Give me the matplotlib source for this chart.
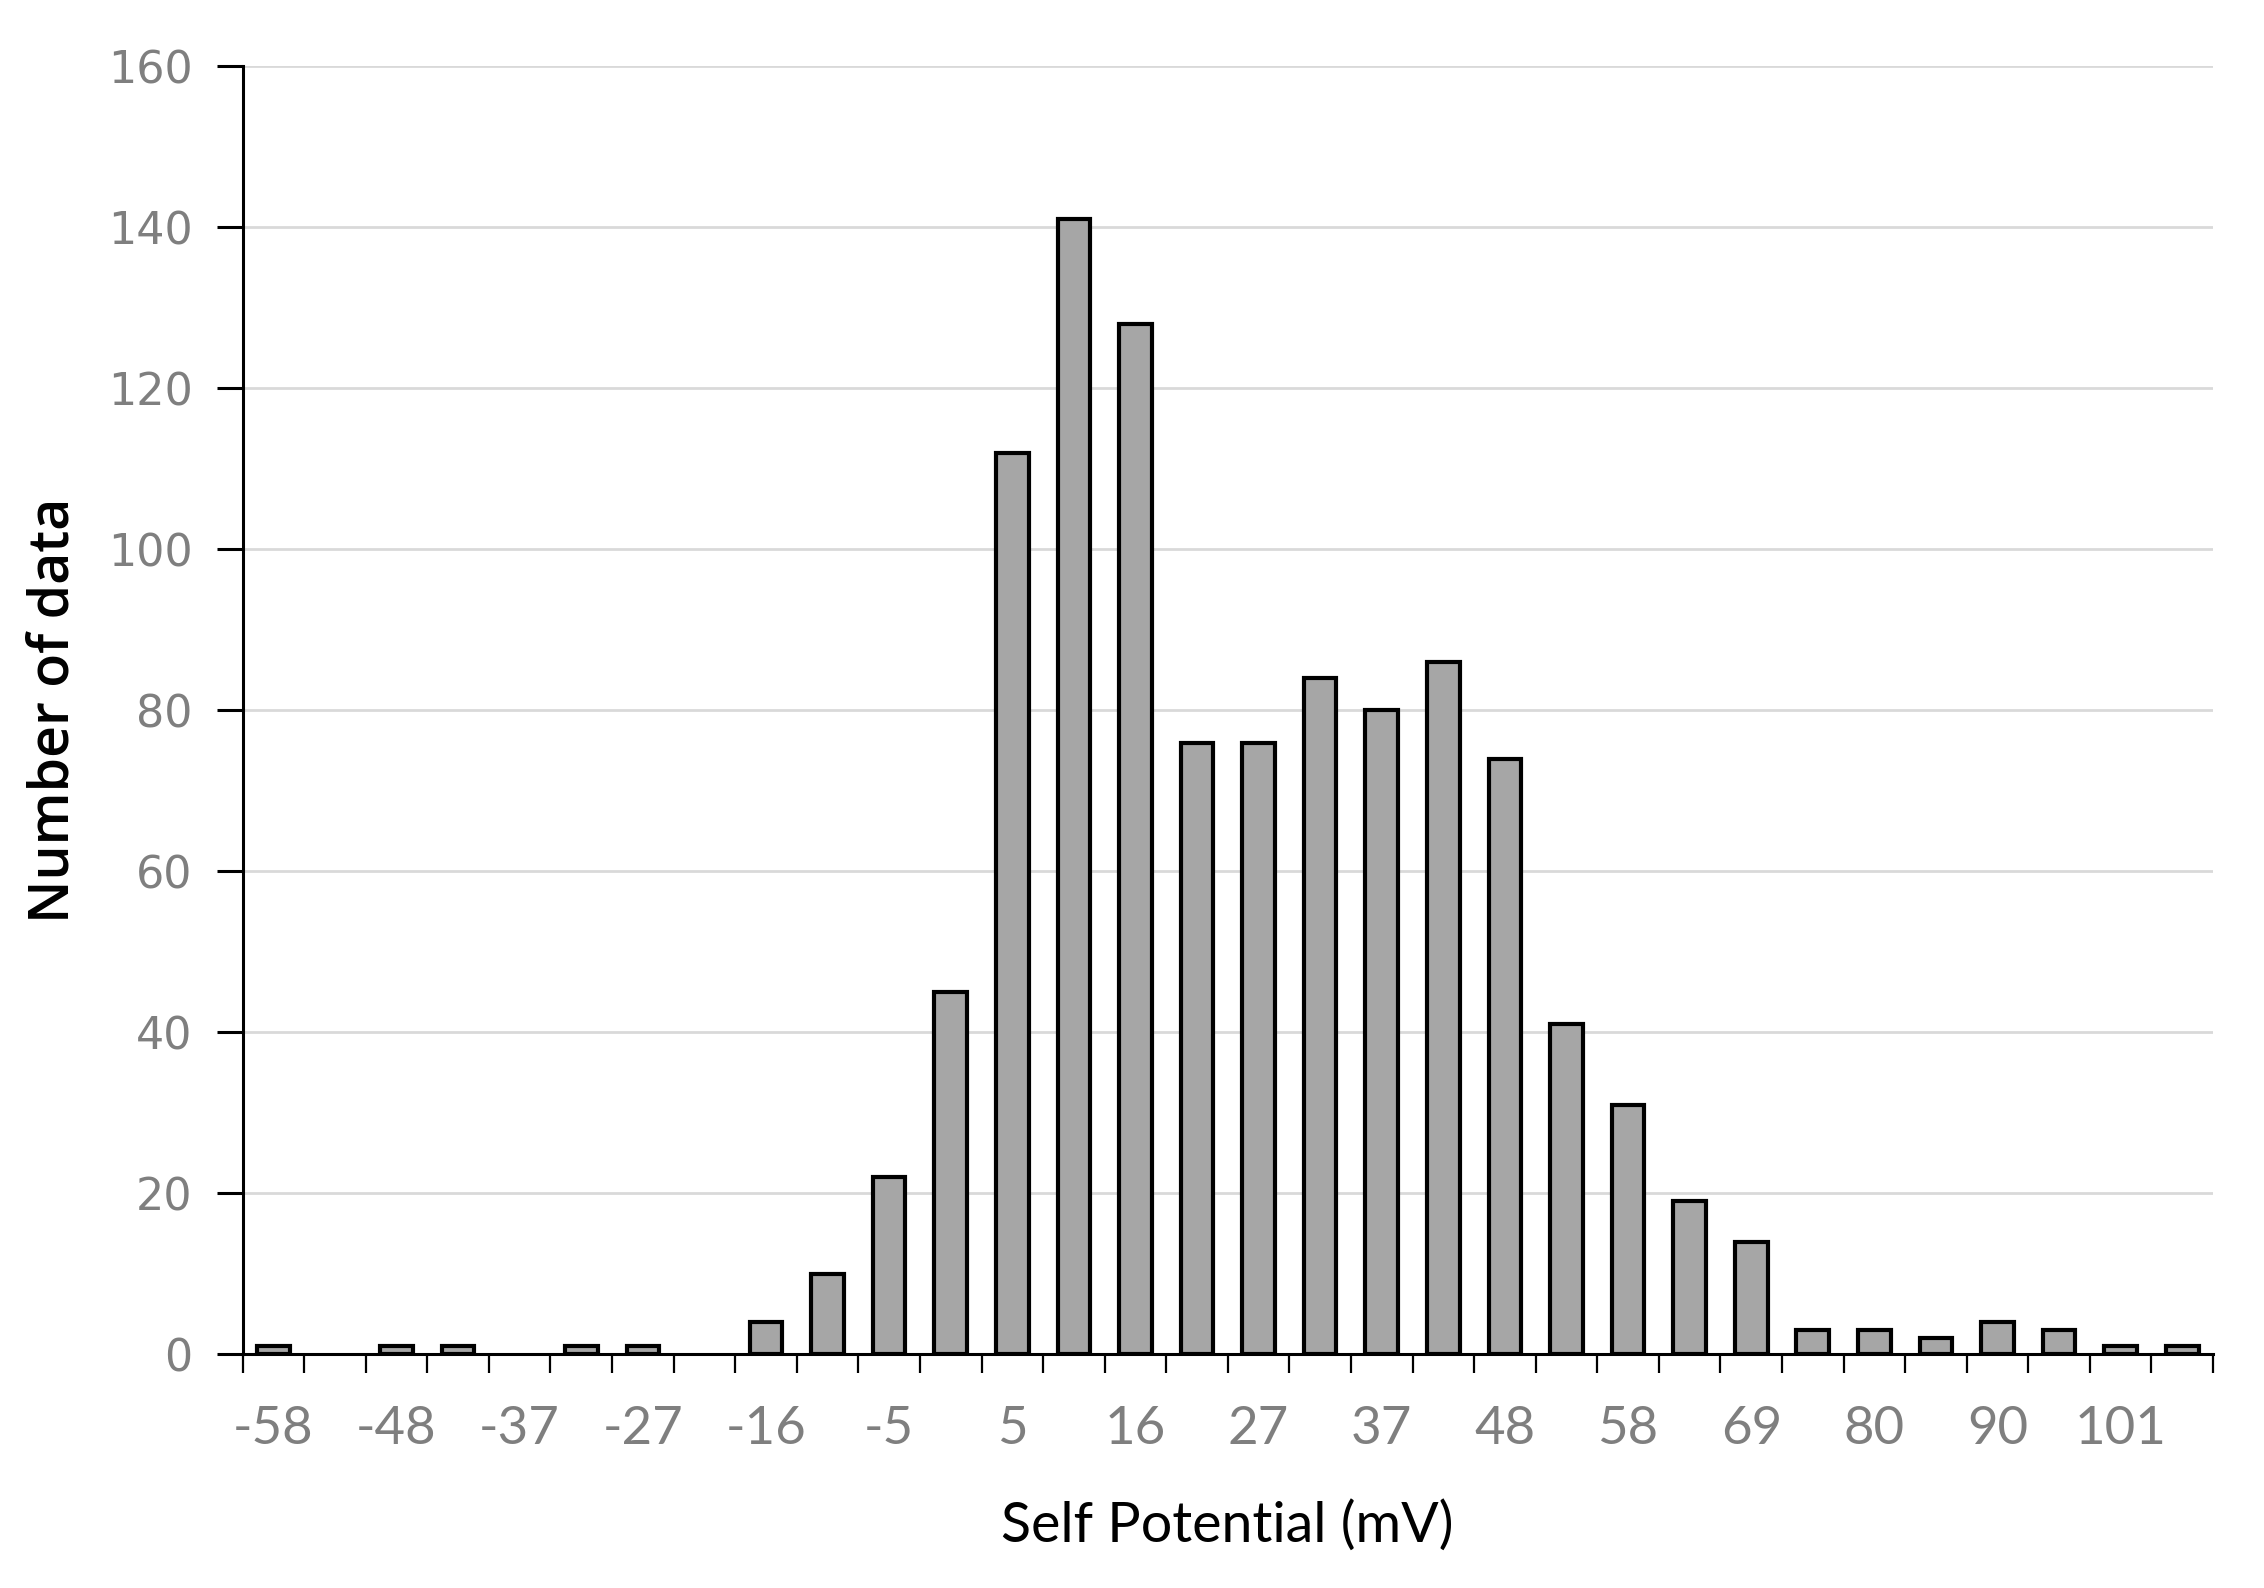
import matplotlib
matplotlib.use("Agg")
import matplotlib.pyplot as plt
import numpy as np

# ---- data ----
bin_labels = ["-58", "-53", "-48", "-42", "-37", "-32", "-27", "-21",
              "-16", "-11", "-5", "0", "5", "11", "16", "21",
              "27", "32", "37", "43", "48", "53", "58", "64",
              "69", "74", "80", "85", "90", "96", "101", "106"]
counts = [1, 0, 1, 1, 0, 1, 1, 0,
          4, 10, 22, 45, 112, 141, 128, 76,
          76, 84, 80, 86, 74, 41, 31, 19,
          14, 3, 3, 2, 4, 3, 1, 1]
y_ticks = [0, 20, 40, 60, 80, 100, 120, 140, 160]
x_title = "Self Potential (mV)"
y_title = "Number of data"

xfont = "Lato"

W, H = 2264, 1588
fig = plt.figure(figsize=(W / 100, H / 100), dpi=100)
ax = fig.add_axes([242.6 / W, 1 - 1354.4 / H, (2213 - 242.6) / W, (1354.4 - 66.4) / H])

x = np.arange(len(counts))
lws = [3.0 if c > 0 else 0.0 for c in counts]
ax.bar(x, counts, width=0.53, color="#A6A6A6", edgecolor="black", linewidth=lws, zorder=3)

ax.set_xlim(-0.5, len(counts) - 0.5)
ax.set_ylim(0, 160)
ax.set_yticks(y_ticks)
ax.set_yticklabels([str(v) for v in y_ticks], fontsize=32, color="#7F7F7F", family="DejaVu Sans")
ax.yaxis.grid(True, color="#D9D9D9", linewidth=2.0, zorder=0)
ax.set_axisbelow(True)

# major ticks: labels every other category, no tick mark
ax.set_xticks(x[::2])
ax.set_xticklabels(bin_labels[::2], fontsize=38, color="#7F7F7F", family=xfont)
ax.tick_params(axis="x", which="major", length=0, pad=37)
# minor ticks at category boundaries
ax.set_xticks(np.arange(-0.5, len(counts), 1.0), minor=True)
ax.tick_params(axis="x", which="minor", length=14, width=1.6, color="black", direction="out")
ax.tick_params(axis="y", which="major", length=19, width=2.2, color="black", direction="out", pad=17)

for s in ["top", "right"]:
    ax.spines[s].set_visible(False)
ax.spines["left"].set_linewidth(2.2)
ax.spines["bottom"].set_linewidth(2.2)

fig.text(1227 / W, 1 - 1526 / H, x_title, ha="center", va="center", fontsize=40, family=xfont, color="black")
fig.text(55 / W, 1 - 710 / H, y_title, ha="center", va="center", rotation=90, fontsize=40,
         family="Open Sans", fontweight="semibold", color="black")

fig.savefig("out.png", dpi=100)
